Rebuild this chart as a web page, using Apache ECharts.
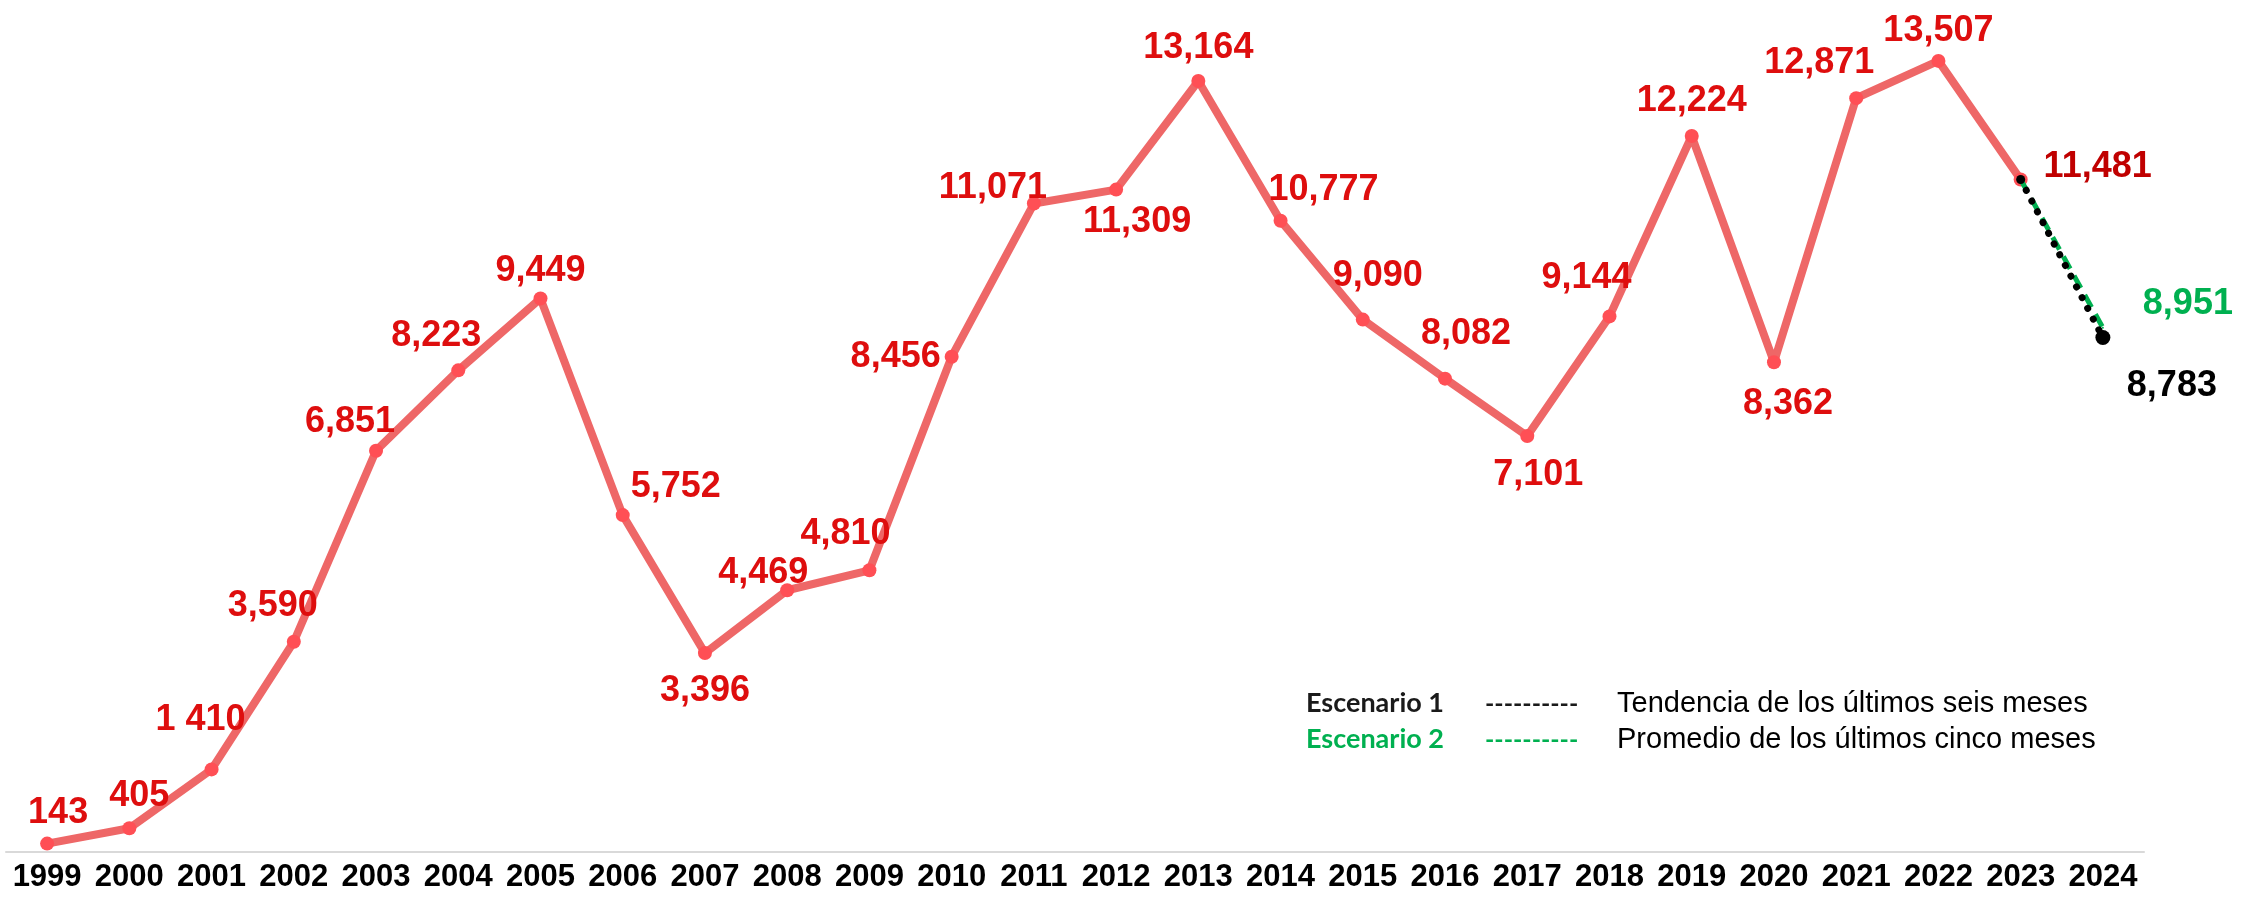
<!DOCTYPE html>
<html>
<head>
<meta charset="utf-8">
<script src="https://cdn.jsdelivr.net/npm/echarts@6/dist/echarts.min.js"></script>
<style>
html,body{margin:0;padding:0;background:#fff;}
#chart{width:2256px;height:907px;}
</style>
</head>
<body>
<div id="chart"></div>
<script>
// ---- data ----
const years = ['1999','2000','2001','2002','2003','2004','2005','2006','2007','2008','2009','2010','2011','2012','2013','2014','2015','2016','2017','2018','2019','2020','2021','2022','2023','2024'];
const annualValues = [143,405,1410,3590,6851,8223,9449,5752,3396,4469,4810,8456,11071,11309,13164,10777,9090,8082,7101,9144,12224,8362,12871,13507,11481];
const annualLabels = ['143','405','1 410','3,590','6,851','8,223','9,449','5,752','3,396','4,469','4,810','8,456','11,071','11,309','13,164','10,777','9,090','8,082','7,101','9,144','12,224','8,362','12,871','13,507','11,481'];
const scenario1Value = 8783;  // Tendencia de los últimos seis meses (2024)
const scenario2Value = 8951;  // Promedio de los últimos cinco meses (2024)
const scenario1Label = '8,783';
const scenario2Label = '8,951';
const legendRows = [
  {name:'Escenario 1', dash:'----------', text:'Tendencia de los últimos seis meses'},
  {name:'Escenario 2', dash:'----------', text:'Promedio de los últimos cinco meses'}
];

// ---- styles (label placement relative to each point) ----
const labelOffsets = [
  [11,-36],[10,-37],[-11,-54],[-21,-41],[-26,-34],[-22,-39],[0,-32],[53,-33],[0,33],[-24,-22],
  [-24,-41],[-56,-5],[-41,-20],[21,27],[0,-38],[43,-36],[15,-49],[21,-50],[11,34],[-23,-43],
  [0,-40],[14,37],[-37,-40],[0,-35],[77,-17]
];
const labelShiftY = 5;
const labelColor = '#DE0E0E';
const lastLabelColor = '#C00000';
const greenColor = '#00B050';

const chart = echarts.init(document.getElementById('chart'));

const lastIdx = annualValues.length - 1;

const mainData = years.map((y, i) => {
  if (i > lastIdx) return null;
  return {
    value: annualValues[i],
    label: {
      show: true,
      formatter: annualLabels[i],
      offset: [labelOffsets[i][0], labelOffsets[i][1] + labelShiftY],
      color: i === lastIdx ? lastLabelColor : labelColor
    }
  };
});

const s1Data = years.map((y, i) => {
  if (i === lastIdx) return {value: annualValues[lastIdx], symbolSize: 9};
  if (i === lastIdx + 1) return {value: scenario1Value, symbolSize: 15,
    label: {show: true, formatter: scenario1Label, offset: [69, 49], color: '#000'}};
  return null;
});
const s2Data = years.map((y, i) => {
  if (i === lastIdx) return {value: annualValues[lastIdx], symbolSize: 0};
  if (i === lastIdx + 1) return {value: scenario2Value, symbolSize: 2,
    label: {show: true, formatter: scenario2Label, offset: [85, -24], color: greenColor}};
  return null;
});

const labelBase = {
  position: 'inside',
  fontFamily: '"Liberation Sans", Arial, sans-serif',
  fontWeight: 'bold',
  fontSize: 36,
  align: 'center',
  verticalAlign: 'middle'
};

const graphics = [];
legendRows.forEach((r, k) => {
  const cy = 707 + k * 36;
  const col = k === 0 ? '#1a1a1a' : greenColor;
  graphics.push({type:'text', left:1306, top: cy - 17, style:{text:r.name, fill:col, font:'bold 27px Lato, "Open Sans", sans-serif'}});
  graphics.push({type:'text', left:1485, top: cy - 16, style:{text:r.dash, fill:col, font:'bold 25px Lato, "Open Sans", sans-serif'}});
  graphics.push({type:'text', left:1617, top: cy - 18, style:{text:r.text, fill:'#000', font:'29px "Liberation Sans", Arial, sans-serif'}});
});

chart.setOption({
  animation: false,
  backgroundColor: '#fff',
  grid: {left: 6, right: 112, top: 32, bottom: 55, containLabel: false},
  xAxis: {
    type: 'category',
    data: years,
    boundaryGap: true,
    axisLine: {show: true, lineStyle: {color: '#D9D9D9', width: 2}},
    axisTick: {show: false},
    splitLine: {show: false},
    axisLabel: {
      color: '#000', fontWeight: 'bold', fontSize: 31,
      fontFamily: '"Liberation Sans", Arial, sans-serif',
      margin: 10, interval: 0
    }
  },
  yAxis: {
    type: 'value', min: 0, max: 14000,
    show: false, splitLine: {show: false}
  },
  series: [
    {
      type: 'line',
      data: mainData,
      symbol: 'circle',
      symbolSize: 14,
      lineStyle: {color: '#EE6767', width: 8},
      itemStyle: {color: '#FF4F55'},
      label: labelBase,
      z: 2
    },
    {
      type: 'line',
      data: s2Data,
      symbol: 'circle',
      itemStyle: {color: greenColor},
      lineStyle: {color: greenColor, width: 5, type: [14, 8]},
      label: labelBase,
      z: 3
    },
    {
      type: 'line',
      data: s1Data,
      symbol: 'circle',
      lineStyle: {color: '#000', width: 7, type: [0.1, 12], cap: 'round'},
      itemStyle: {color: '#000'},
      label: labelBase,
      z: 4
    }
  ],
  graphic: graphics
});
</script>
</body>
</html>
